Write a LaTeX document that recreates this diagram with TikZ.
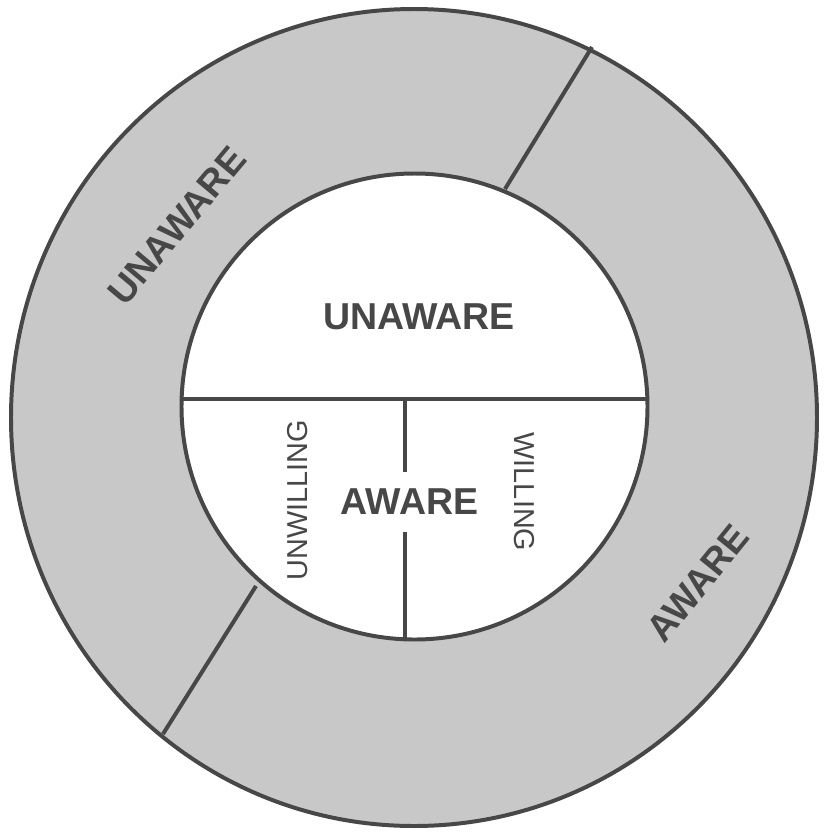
\documentclass[tikz,border=0pt]{standalone}
\usepackage{fontspec}
\setmainfont{Liberation Sans}
\usetikzlibrary{positioning,calc}
\definecolor{ringgray}{HTML}{C8C8C8}
\definecolor{ink}{HTML}{474747}

\begin{document}
\begin{tikzpicture}[
  x=0.03cm, y=-0.03cm,
  edge/.style={draw=ink, line width=3.4pt},
  big/.style={font=\fontsize{32}{32}\selectfont\bfseries, text=ink, inner sep=0pt},
  side/.style={font=\fontsize{24.6}{25}\selectfont, text=ink, inner sep=0pt}
]
  \useasboundingbox[fill=white] (0,0) rectangle (826,832);

  \coordinate (outer) at (414,417.5);
  \coordinate (inner) at (414.5,406.5);

  % ring and inner disc
  \fill[ringgray] (outer) ellipse [x radius=403, y radius=408.5];
  \fill[white] (inner) circle [radius=233];

  % dividers across the ring
  \coordinate (ua) at (592,47);
  \coordinate (ub) at (505,189);
  \coordinate (la) at (256,586);
  \coordinate (lb) at (163,734);
  \draw[edge] (ua) -- (ub);
  \draw[edge] (la) -- (lb);

  % labels
  \node[big] (unawin) at (419,317) {UNAWARE};
  \node[big] (awin) at (409.5,501.5) {AWARE};
  \node[side, rotate=90] (unwill) at (297.5,500) {UNWILLING};
  \node[side, rotate=-90] (will) at (524,492) {WILLING};
  \node[big, rotate=50] (unawout) at (177,226) {UNAWARE};
  \node[big, rotate=51] (awout) at (698,583) {AWARE};

  % inner partitions
  \coordinate (hl) at (170,399);
  \coordinate (hr) at (660,399);
  \coordinate (vt) at (405,399);
  \coordinate (v1) at (405,472);
  \coordinate (v2) at (405,532);
  \coordinate (vb) at (405,650);
  \begin{scope}
    \clip (inner) circle [radius=233];
    \draw[edge] (hl) -- (hr);
    \draw[edge] (vt) -- (v1);
    \draw[edge] (v2) -- (vb);
  \end{scope}

  \draw[edge] (outer) ellipse [x radius=403, y radius=408.5];
  \draw[edge] (inner) circle [radius=233];
\end{tikzpicture}
\end{document}
